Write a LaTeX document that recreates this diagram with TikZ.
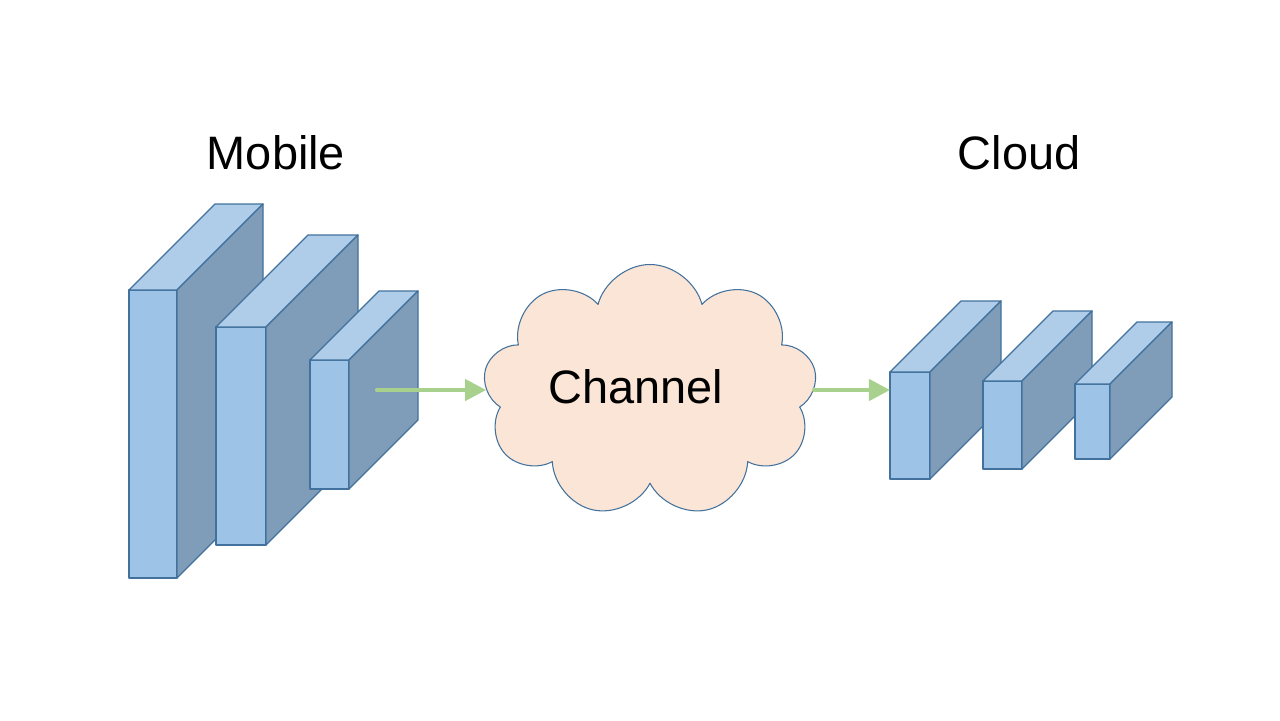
\documentclass[tikz,border=0pt]{standalone}
\usepackage{fontspec}
\setmainfont{Liberation Sans}
\usetikzlibrary{shapes.symbols,arrows.meta}

\definecolor{frontblue}{HTML}{9DC3E6}
\definecolor{topblue}{HTML}{AFCDE9}
\definecolor{sideblue}{HTML}{7F9CB8}
\definecolor{edgeblue}{HTML}{41719C}
\definecolor{cloudfill}{HTML}{FBE5D6}
\definecolor{arrowgreen}{HTML}{A9D18E}

\tikzset{
  front face/.style={draw=edgeblue,fill=frontblue,line width=.75pt,inner sep=0pt,outer sep=0pt},
  top face/.style={draw=edgeblue,fill=topblue,line width=.75pt},
  side face/.style={draw=edgeblue,fill=sideblue,line width=.75pt},
  flow/.style={draw=arrowgreen,line width=2.4pt,-{Triangle[length=12pt,width=12pt]}},
  title/.style={font=\fontsize{26.7}{32}\selectfont,inner sep=0pt}
}

% name, left, top, width, height, depth (pixels)
\newcommand{\netlayer}[6]{%
  \node[front face,anchor=north west,minimum width=#4*0.02cm,minimum height=#5*0.02cm] (#1) at (#2,#3) {};
  \draw[top face] (#1.north west) -- ++(#6,-#6) -- ++(#4,0) -- (#1.north east) -- cycle;
  \draw[side face] (#1.north east) -- ++(#6,-#6) -- ++(0,#5) -- (#1.south east) -- cycle;
}

\begin{document}
\begin{tikzpicture}[line cap=round,line join=round,x=0.02cm,y=-0.02cm]
	\useasboundingbox (0,0) rectangle (1280,720);
	% mobile side
	\netlayer{m1}{129}{290}{48}{288}{86}
	\netlayer{m2}{216}{327}{50}{218}{92}
	\netlayer{m3}{310}{360}{39}{129}{69}
	% cloud side
	\netlayer{c1}{890}{372}{40}{107}{71}
	\netlayer{c2}{983}{381}{39}{88}{70}
	\netlayer{c3}{1075}{384}{35}{75}{62}
	% channel
	\node[cloud,cloud puffs=9,aspect=1.3,draw=edgeblue,fill=cloudfill,line width=.6pt,
	  minimum width=334*0.02cm,minimum height=253*0.02cm,inner sep=0pt] (channel) at (650,391) {};
	\node[title] (chtext) at (636,387) {Channel};
	\node[title] (mobile) at (276,153) {Mobile};
	\node[title] (cloudtitle) at (1019,153) {Cloud};
	\coordinate (out) at (377,390);
	\draw[flow] (out) -- (out -| channel.west);
	\draw[flow] (out -| channel.east) -- (out -| c1.west);
\end{tikzpicture}
\end{document}
